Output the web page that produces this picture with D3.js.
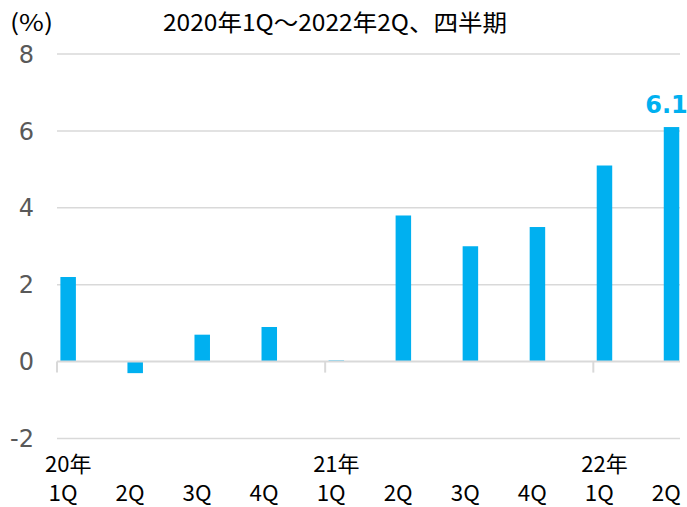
<!DOCTYPE html>
<html>
<head>
<meta charset="utf-8">
<script src="https://cdn.jsdelivr.net/npm/d3@7"></script>
<style>
  html, body { margin: 0; padding: 0; background: #fff; }
  svg { display: block; }
</style>
</head>
<body>
<svg id="chart" width="687" height="507"></svg>
<script>
// Quarterly year-on-year rate, 2020 1Q – 2022 2Q
const quarters = ["1Q", "2Q", "3Q", "4Q", "1Q", "2Q", "3Q", "4Q", "1Q", "2Q"];
const yearLabels = ["20年", "", "", "", "21年", "", "", "", "22年", ""];
const values = [2.2, -0.3, 0.7, 0.9, 0.03, 3.8, 3.0, 3.5, 5.1, 6.1];
const yTicks = [-2, 0, 2, 4, 6, 8];
const subtitle = "2020年1Q～2022年2Q、四半期";
const unitLabel = "(%)";
const highlightIndex = 9;

const svg = d3.select("#chart");
const barColor = "#00B0F0";
const gridColor = "#d9d9d9";
const jpFont = "'Noto Sans CJK JP', 'Noto Sans', sans-serif";
const numFont = "'DejaVu Sans', Verdana, sans-serif";

const left = 57, plotRight = 680;
const step = 67.04;

const x = d3.scaleBand()
  .domain(d3.range(values.length))
  .range([left, left + step * values.length])
  .paddingInner(0).paddingOuter(0);

const y = d3.scaleLinear().domain([-2, 8]).range([438.5, 54]);

const barOffset = 3.4, barWidth = 15.5;

// horizontal gridlines
svg.append("g")
  .selectAll("line")
  .data(yTicks.filter(d => d !== 0))
  .join("line")
  .attr("x1", left).attr("x2", plotRight)
  .attr("y1", d => y(d)).attr("y2", d => y(d))
  .attr("stroke", gridColor).attr("stroke-width", 1.5);

// y tick labels
svg.append("g")
  .selectAll("text")
  .data(yTicks)
  .join("text")
  .attr("x", 34)
  .attr("y", d => y(d))
  .attr("dy", "0.36em")
  .attr("text-anchor", "end")
  .attr("font-family", numFont)
  .attr("font-size", 24)
  .attr("fill", "#595959")
  .text(d => d);

// bars
svg.append("g")
  .selectAll("rect")
  .data(values)
  .join("rect")
  .attr("x", (d, i) => x(i) + barOffset)
  .attr("width", barWidth)
  .attr("y", d => y(Math.max(0, d)))
  .attr("height", d => Math.abs(y(d) - y(0)))
  .attr("fill", barColor);

// zero axis line with year separator ticks
svg.append("line")
  .attr("x1", left).attr("x2", plotRight)
  .attr("y1", y(0)).attr("y2", y(0))
  .attr("stroke", gridColor).attr("stroke-width", 2);

svg.append("g")
  .selectAll("line")
  .data(d3.range(values.length).filter(i => yearLabels[i] !== ""))
  .join("line")
  .attr("x1", i => x(i)).attr("x2", i => x(i))
  .attr("y1", y(0)).attr("y2", y(0) + 11)
  .attr("stroke", gridColor).attr("stroke-width", 2);

// quarter labels
svg.append("g")
  .selectAll("text")
  .data(quarters)
  .join("text")
  .attr("x", (d, i) => x(i) + 6)
  .attr("y", 501)
  .attr("text-anchor", "middle")
  .attr("font-family", jpFont)
  .attr("font-size", 22)
  .attr("textLength", 29)
  .attr("lengthAdjust", "spacingAndGlyphs")
  .attr("fill", "#000")
  .text(d => d);

// year labels
svg.append("g")
  .selectAll("text")
  .data(yearLabels)
  .join("text")
  .attr("x", (d, i) => x(i) - 12)
  .attr("y", 472)
  .attr("font-family", jpFont)
  .attr("font-size", 22)
  .attr("fill", "#000")
  .text(d => d);

// value label on the latest bar
svg.append("text")
  .attr("x", x(highlightIndex) + barOffset + barWidth / 2 - 5)
  .attr("y", y(values[highlightIndex]) - 14)
  .attr("text-anchor", "middle")
  .attr("font-family", numFont)
  .attr("font-weight", "bold")
  .attr("font-size", 24)
  .attr("fill", barColor)
  .text(values[highlightIndex].toFixed(1));

// unit and period
svg.append("text")
  .attr("x", 10).attr("y", 31)
  .attr("font-family", jpFont)
  .attr("font-size", 23)
  .attr("textLength", 43)
  .attr("lengthAdjust", "spacingAndGlyphs")
  .attr("fill", "#000")
  .text(unitLabel);

svg.append("text")
  .attr("x", 163).attr("y", 31)
  .attr("font-family", jpFont)
  .attr("font-size", 23)
  .attr("textLength", 344)
  .attr("lengthAdjust", "spacingAndGlyphs")
  .attr("fill", "#000")
  .text(subtitle);
</script>
</body>
</html>
